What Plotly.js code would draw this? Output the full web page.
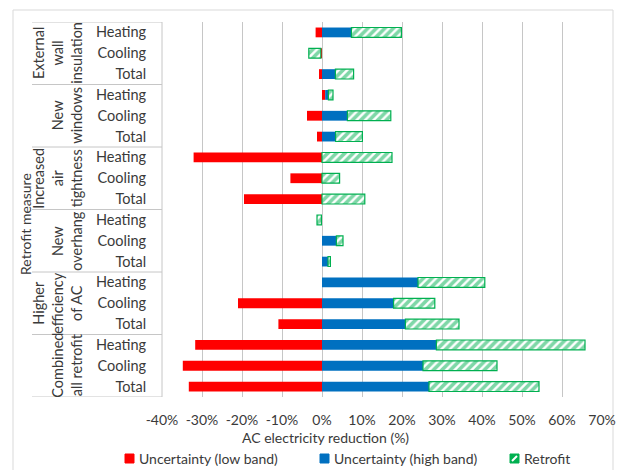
<!DOCTYPE html>
<html>
<head>
<meta charset="utf-8">
<script src="https://cdn.plot.ly/plotly-3.0.1.min.js"></script>
<style>
  html, body { margin: 0; padding: 0; background: #ffffff; }
  #chart { width: 621px; height: 470px; }
</style>
</head>
<body>
<div id="chart"></div>
<script>
// Retrofit measures (each split into Heating / Cooling / Total rows)
const measures = [
  ["External", "wall", "insulation"],
  ["New", "windows"],
  ["Increased", "air", "tightness"],
  ["New", "overhang"],
  ["Higher", "efficiency", "of AC"],
  ["Combined", "all retrofit"]
];
const uses = ["Heating", "Cooling", "Total"];

// AC electricity reduction (%), one value per row, top to bottom
const lowBand  = [-1.6, -0.3, -0.75, 0.8, -3.75, -1.25, -32.1, -7.9, -19.5, -0.15, 0, 0, 0, -21.0, -10.9, -31.7, -34.8, -33.3];
const highBand = [7.35, 0, 3.35, 0.8, 6.35, 3.4, 0, 0, 0, 0, 3.6, 1.5, 24.0, 17.9, 20.85, 28.6, 25.25, 26.75];
const retrofit = [12.5, -3.0, 4.55, 1.15, 10.85, 6.7, 17.5, 4.4, 10.7, -1.1, 1.65, 0.6, 16.7, 10.3, 13.4, 37.15, 18.5, 27.5];

const xTickVals = [-40, -30, -20, -10, 0, 10, 20, 30, 40, 50, 60, 70];
const xTickText = ["-40%", "-30%", "-20%", "-10%", "0%", "10%", "20%", "30%", "40%", "50%", "60%", "70%"];

const seriesNames = ["Uncertainty (low band)", "Uncertainty (high band)", "Retrofit"];

// colours
const RED = "#ff0000", BLUE = "#0070c0", GREEN = "#00b050";
const TEXT = "#3a3a3a", GRID = "#c6c6c6", FRAME = "#d9d9d9";
const FONT = "Lato, 'Open Sans', sans-serif";

// row labels and positions
const rowLabels = [];
measures.forEach(() => uses.forEach(u => rowLabels.push(u)));
const rowPos = rowLabels.map((_, i) => i);

// plot-area geometry in pixels (used to place paper-referenced decorations)
const W = 621, H = 470;
const M = { l: 162, r: 19, t: 22, b: 73 };
const PW = W - M.l - M.r, PH = H - M.t - M.b;
const px = x => (x - M.l) / PW;
const py = y => (H - M.b - y) / PH;

const barWidth = 0.47;

const traces = [
  {
    type: "bar", orientation: "h", name: seriesNames[0],
    x: lowBand, y: rowPos, width: barWidth,
    marker: { color: RED, line: { width: 0 } },
    showlegend: false, hoverinfo: "skip"
  },
  {
    type: "bar", orientation: "h", name: seriesNames[1],
    x: highBand, y: rowPos, width: barWidth,
    marker: { color: BLUE, line: { width: 0 } },
    showlegend: false, hoverinfo: "skip"
  },
  {
    type: "bar", orientation: "h", name: seriesNames[2],
    x: retrofit, y: rowPos, width: barWidth,
    marker: {
      color: "#ffffff",
      line: { color: GREEN, width: 1.2 },
      pattern: { shape: "/", fgcolor: GREEN, bgcolor: "#ffffff", size: 6, solidity: 0.6, fillmode: "overlay" }
    },
    showlegend: false, hoverinfo: "skip"
  }
];

const shapes = [];
const annotations = [];

// outer chart frame
shapes.push({
  type: "rect", xref: "paper", yref: "paper",
  x0: px(13), x1: px(613), y0: py(480), y1: py(10),
  line: { color: FRAME, width: 1 }, fillcolor: "rgba(0,0,0,0)", layer: "below"
});

// category table: group separators and right edge
for (let g = 0; g <= measures.length; g++) {
  const yb = g * uses.length - 0.5;
  shapes.push({
    type: "line", xref: "paper", yref: "y",
    x0: px(32), x1: 0, y0: yb, y1: yb,
    line: { color: GRID, width: 1 }
  });
}
shapes.push({
  type: "line", xref: "paper", yref: "y",
  x0: 0, x1: 0, y0: -0.5, y1: rowLabels.length - 0.5,
  line: { color: GRID, width: 1 }
});

// measure names, rotated
measures.forEach((lines, g) => {
  annotations.push({
    xref: "paper", yref: "y",
    x: px(87), y: g * uses.length + 1,
    xanchor: "right", yanchor: "middle",
    text: lines.join("<br>"), textangle: -90, align: "center",
    showarrow: false, font: { family: FONT, size: 14.5, color: TEXT }
  });
});

// axis titles
annotations.push({
  xref: "paper", yref: "paper", x: px(26), y: py(224),
  xanchor: "center", yanchor: "middle", textangle: -90,
  text: "Retrofit measure", showarrow: false,
  font: { family: FONT, size: 14, color: TEXT }
});
annotations.push({
  xref: "paper", yref: "paper", x: px(325.5), y: py(437),
  xanchor: "center", yanchor: "middle",
  text: "AC electricity reduction (%)", showarrow: false,
  font: { family: FONT, size: 14, color: TEXT }
});

// legend
const legendItems = [
  { x: 125, color: RED },
  { x: 320, color: BLUE },
  { x: 510, color: GREEN, hatched: true }
];
legendItems.forEach((it, i) => {
  const x0 = it.x, x1 = it.x + 9, y0 = 454, y1 = 463;
  shapes.push({
    type: "rect", xref: "paper", yref: "paper",
    x0: px(x0), x1: px(x1), y0: py(y1), y1: py(y0),
    fillcolor: it.color, line: { color: it.color, width: 1 }
  });
  if (it.hatched) {
    shapes.push({
      type: "line", xref: "paper", yref: "paper",
      x0: px(x0 + 2), x1: px(x1 - 2), y0: py(y1 - 2), y1: py(y0 + 2),
      line: { color: "#ffffff", width: 2 }
    });
  }
  annotations.push({
    xref: "paper", yref: "paper", x: px(x1 + 3), y: py(458.5),
    xanchor: "left", yanchor: "middle",
    text: seriesNames[i], showarrow: false,
    font: { family: FONT, size: 14, color: TEXT }
  });
});

const layout = {
  width: W, height: H,
  margin: M,
  paper_bgcolor: "#ffffff", plot_bgcolor: "#ffffff",
  barmode: "relative",
  showlegend: false,
  font: { family: FONT, size: 14, color: TEXT },
  xaxis: {
    range: [-40, 70], tickvals: xTickVals, ticktext: xTickText,
    showgrid: true, gridcolor: GRID, gridwidth: 1,
    zeroline: true, zerolinecolor: GRID, zerolinewidth: 1,
    showline: false, ticks: "outside", ticklen: 10, tickcolor: "rgba(0,0,0,0)",
    tickfont: { family: FONT, size: 14, color: TEXT }, fixedrange: true
  },
  yaxis: {
    range: [rowLabels.length - 0.5, -0.5],
    tickvals: rowPos, ticktext: rowLabels,
    showgrid: false, zeroline: false, showline: false,
    ticks: "outside", ticklen: 12, tickcolor: "rgba(0,0,0,0)",
    tickfont: { family: FONT, size: 14.5, color: TEXT }, fixedrange: true
  },
  shapes: shapes,
  annotations: annotations
};

Plotly.newPlot("chart", traces, layout, { displayModeBar: false, staticPlot: true });
</script>
</body>
</html>
